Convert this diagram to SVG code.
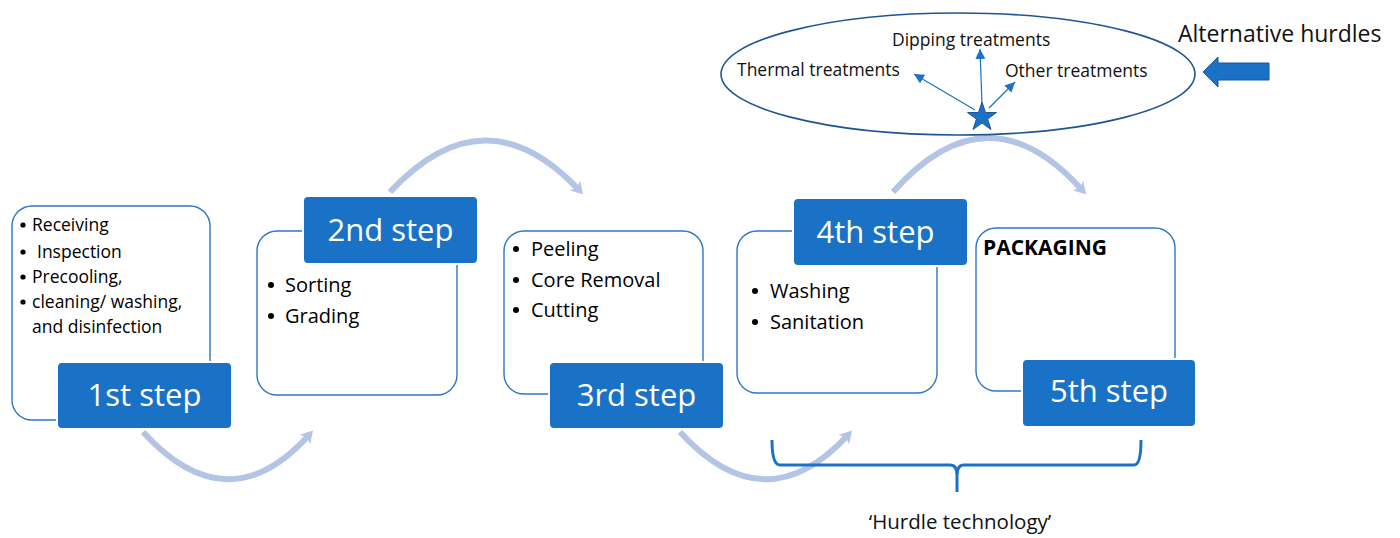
<svg xmlns="http://www.w3.org/2000/svg" width="1400" height="538" viewBox="0 0 1400 538">
<style>
.outline{fill:#fff;stroke:#2e75c7;stroke-width:1.4}
.step{fill:#1a72c6;stroke:#fff;stroke-width:2}
.stept{font-family:"Open Sans",sans-serif;font-size:31px;fill:#fff;text-anchor:middle}
.b1{font-family:"Open Sans",sans-serif;font-size:17.5px;fill:#000}
.b2{font-family:"Open Sans",sans-serif;font-size:20px;fill:#000}
.dot{fill:#000}
.arc{fill:none;stroke:#b4c4e4;stroke-width:6}
.small{font-family:"Open Sans",sans-serif;font-size:17.5px;fill:#111}
</style>
<defs>
<marker id="ah" markerUnits="userSpaceOnUse" markerWidth="20" markerHeight="20" refX="10" refY="10" viewBox="0 0 20 20" orient="auto">
<path d="M4,3 L16,10 L4,17 L7,10 Z" fill="#b4c4e4"/>
</marker>
<marker id="sa" markerUnits="userSpaceOnUse" markerWidth="12" markerHeight="12" refX="10" refY="5" viewBox="0 0 12 10" orient="auto">
<path d="M0,0 L10,5 L0,10 Z" fill="#1a72c6"/>
</marker>
</defs>
<g id="connectors">
<path class="arc" d="M143,432 Q228,525 309,435" marker-end="url(#ah)"/>
<path class="arc" d="M390,192 Q485,90 579,190" marker-end="url(#ah)"/>
<path class="arc" d="M680,432 Q765,525 848,435" marker-end="url(#ah)"/>
<path class="arc" d="M893,192 Q988,85 1082,190" marker-end="url(#ah)"/>
</g>
<g id="step1">
<rect class="outline" x="12" y="206" width="198" height="214" rx="20"/>
<rect class="step" x="57" y="362" width="175" height="67" rx="5"/>
<text class="stept" x="144.5" y="406">1st step</text>
<g class="b1">
<text x="32" y="231">Receiving</text>
<text x="37" y="258">Inspection</text>
<text x="32" y="283">Precooling,</text>
<text x="32" y="308">cleaning/ washing,</text>
<text x="32" y="333">and disinfection</text>
</g>
<circle class="dot" cx="23" cy="225" r="2.6"/>
<circle class="dot" cx="23" cy="252" r="2.6"/>
<circle class="dot" cx="23" cy="277" r="2.6"/>
<circle class="dot" cx="23" cy="302" r="2.6"/>
</g>
<g id="step2">
<rect class="outline" x="257" y="231" width="200" height="164" rx="20"/>
<rect class="step" x="303" y="196" width="175" height="68" rx="5"/>
<text class="stept" x="390.5" y="241">2nd step</text>
<g class="b2">
<text x="285" y="292">Sorting</text>
<text x="285" y="323">Grading</text>
</g>
<circle class="dot" cx="271" cy="285" r="3"/>
<circle class="dot" cx="271" cy="316" r="3"/>
</g>
<g id="step3">
<rect class="outline" x="504" y="231" width="199" height="163" rx="20"/>
<rect class="step" x="549" y="362" width="175" height="67" rx="5"/>
<text class="stept" x="636.5" y="406">3rd step</text>
<g class="b2">
<text x="531" y="256">Peeling</text>
<text x="531" y="287">Core Removal</text>
<text x="531" y="317">Cutting</text>
</g>
<circle class="dot" cx="516" cy="249" r="3"/>
<circle class="dot" cx="516" cy="280" r="3"/>
<circle class="dot" cx="516" cy="310" r="3"/>
</g>
<g id="step4">
<rect class="outline" x="737" y="231" width="200" height="162" rx="20"/>
<rect class="step" x="793" y="198" width="175" height="68" rx="5"/>
<text class="stept" x="875.5" y="243">4th step</text>
<g class="b2">
<text x="770" y="298">Washing</text>
<text x="770" y="329">Sanitation</text>
</g>
<circle class="dot" cx="755" cy="291" r="3"/>
<circle class="dot" cx="755" cy="322" r="3"/>
</g>
<g id="step5">
<rect class="outline" x="976" y="228" width="199" height="163" rx="20"/>
<rect class="step" x="1022" y="359" width="174" height="68" rx="5"/>
<text class="stept" x="1109" y="402">5th step</text>
<text x="983" y="255" style="font-family:'Open Sans',sans-serif;font-size:21px;font-weight:bold;fill:#000">PACKAGING</text>
</g>
<g id="brace">
<path d="M772,440 Q772,465 780,465 L950,465 Q957,465 957,475 L957,492 M957,475 Q957,465 964,465 L1134,465 Q1141,465 1141,440" fill="none" stroke="#1a72c6" stroke-width="3"/>
<text x="960" y="529" text-anchor="middle" style="font-family:'Open Sans',sans-serif;font-size:20.5px;fill:#111">‘Hurdle technology’</text>
</g>
<g id="alternatives">
<ellipse cx="958" cy="74" rx="237" ry="61" fill="none" stroke="#1f5595" stroke-width="1.6"/>
<text class="small" x="892" y="46">Dipping treatments</text>
<text class="small" x="737" y="76">Thermal treatments</text>
<text class="small" x="1005" y="77">Other treatments</text>
<g stroke="#1a72c6" stroke-width="1.2" fill="none">
<line x1="975" y1="110" x2="914" y2="74" marker-end="url(#sa)"/>
<line x1="982" y1="104" x2="980" y2="49" marker-end="url(#sa)"/>
<line x1="989" y1="108" x2="1015" y2="82" marker-end="url(#sa)"/>
</g>
<polygon points="982,102 985.5,112.5 996.5,112.5 987.6,119 991,129.5 982,123 973,129.5 976.4,119 967.5,112.5 978.5,112.5" fill="#1a72c6" stroke="#1f5595" stroke-width="1"/>
</g>
<g id="alt-label">
<text x="1178" y="42" style="font-family:'Open Sans',sans-serif;font-size:23px;fill:#111">Alternative hurdles</text>
<polygon points="1203,72 1218,57 1218,63 1269,63 1269,80 1218,80 1218,87" fill="#1a72c6" stroke="#1f5595" stroke-width="1"/>
</g>
</svg>
